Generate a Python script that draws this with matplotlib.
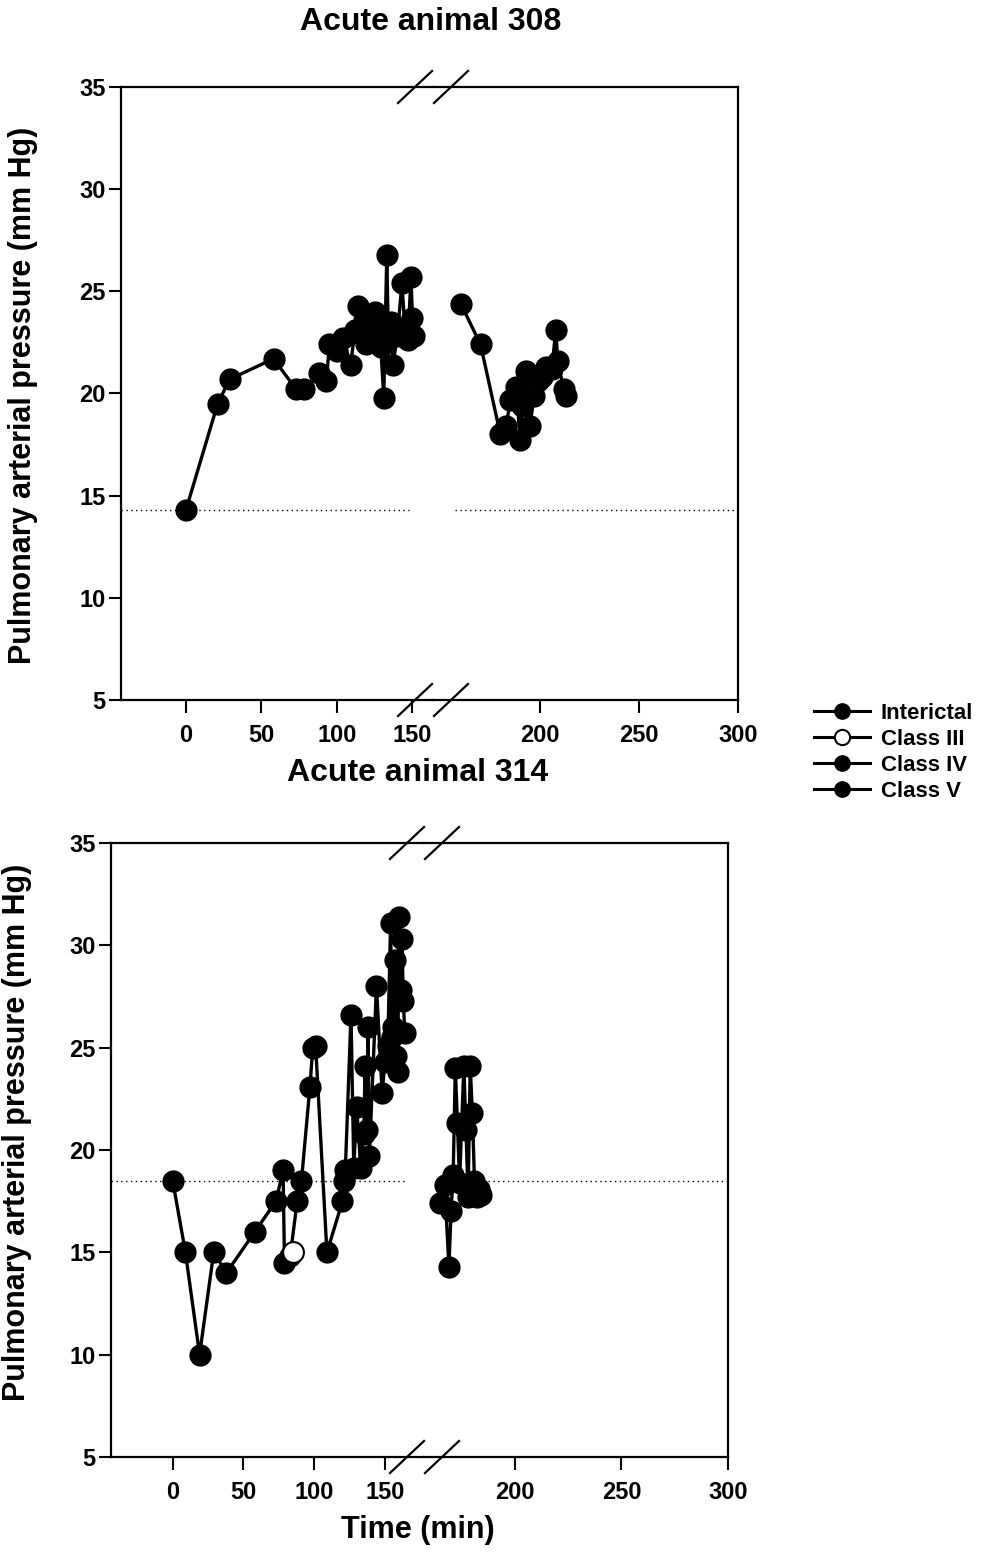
import matplotlib
matplotlib.use("Agg")
import matplotlib.pyplot as plt
from matplotlib.lines import Line2D

plt.rcParams['font.family'] = ['Liberation Sans', 'DejaVu Sans']
plt.rcParams['font.weight'] = 'bold'

# ---------------- data ----------------
# Acute animal 308
t308_early = [0, 21, 29, 58, 73, 78, 88, 93, 95, 100, 104, 109, 112, 114, 116, 118, 119, 121,
              123, 125, 127, 129, 131, 133, 134, 136, 137, 140, 143, 145, 147, 149, 150, 151]
p308_early = [14.3, 19.5, 20.7, 21.7, 20.2, 20.2, 21.0, 20.6, 22.4, 22.1, 22.7, 21.4, 23.1, 24.3,
              22.9, 23.6, 22.4, 23.3, 22.6, 24.0, 23.2, 22.3, 19.8, 26.8, 22.9, 23.5, 21.4, 22.8,
              25.4, 23.2, 22.6, 25.7, 23.7, 22.8]
t308_late = [160, 170, 180, 183, 185, 188, 190, 191, 193, 195, 197, 199, 201, 203, 206, 208, 209, 212, 213]
p308_late = [24.4, 22.4, 18.0, 18.4, 19.7, 20.3, 17.7, 19.4, 21.1, 18.4, 19.9, 20.6, 20.8, 21.3,
             21.2, 23.1, 21.6, 20.2, 19.9]
base308 = 14.3

# Acute animal 314
t314_early = [0, 9, 19, 29, 38, 58, 73, 78, 79, 83, 88, 91, 97, 99, 101, 109, 120, 121, 122, 126,
              128, 130, 133, 135, 136, 137, 138, 139, 144, 148, 150, 152, 154, 155, 156, 157, 158,
              159, 160, 161, 162, 163, 164]
p314_early = [18.5, 15.0, 10.0, 15.0, 14.0, 16.0, 17.5, 19.0, 14.5, 14.8, 17.5, 18.5, 23.1, 25.0,
              25.1, 15.0, 17.5, 18.5, 19.0, 26.6, 19.1, 22.1, 19.1, 20.8, 24.1, 21.0, 26.0, 19.7,
              28.0, 22.8, 24.3, 25.1, 31.1, 25.5, 26.0, 29.3, 24.6, 23.8, 31.4, 27.8, 30.3, 27.3, 25.7]
t314_late = [165, 167, 169, 170, 171, 172, 173, 174, 176, 177, 178, 179, 180, 181, 182, 183, 184]
p314_late = [17.4, 18.3, 14.3, 17.0, 18.8, 24.0, 21.3, 18.4, 24.1, 21.0, 17.7, 24.1, 21.8, 18.5,
             17.7, 18.1, 17.8]
t314_class3 = [85]
p314_class3 = [15.0]
base314 = 18.5

yticks = [5, 10, 15, 20, 25, 30, 35]
xticks_early = [0, 50, 100, 150]
xticks_late = [200, 250, 300]
legend_labels = ['Interictal', 'Class III', 'Class IV', 'Class V']
titles = ['Acute animal 308', 'Acute animal 314']
ylabel = 'Pulmonary arterial pressure (mm Hg)'
xlabel = 'Time (min)'

# ---------------- layout ----------------
W, H = 981, 1552
fig = plt.figure(figsize=(W / 100, H / 100), dpi=100)


def fx(px):
    return px / W


def fy(py):
    return 1 - py / H


MS = 15
LW = 2.4
TICK_FS = 17
LABEL_FS = 22
TITLE_FS = 23


def style_axis(ax, show_y):
    ax.set_ylim(5, 35)
    ax.set_yticks(yticks)
    for s in ax.spines.values():
        s.set_linewidth(1.6)
    ax.tick_params(axis='both', direction='out', length=9, width=1.5,
                   labelsize=TICK_FS, pad=2)
    ax.tick_params(axis='x', pad=8)
    if not show_y:
        ax.tick_params(axis='y', left=False, labelleft=False)


def panel(px_left, px_break, px_right, py_top, py_bot, xl_left, xl_right,
          early, late, base, line_end_px, line_start_px, slash_x, title, title_xy,
          ylabel_xy, extra=None, show_xlabel=False):
    h = (py_bot - py_top) / H
    axL = fig.add_axes([fx(px_left), fy(py_bot), (px_break - px_left) / W, h])
    axR = fig.add_axes([fx(px_break), fy(py_bot), (px_right - px_break) / W, h])
    axL.set_xlim(*xl_left)
    axR.set_xlim(*xl_right)
    axL.set_xticks(xticks_early)
    axR.set_xticks(xticks_late)
    style_axis(axL, True)
    style_axis(axR, False)
    axL.spines['right'].set_visible(False)
    axR.spines['left'].set_visible(False)

    # baseline dotted line
    fL = (line_end_px - px_left) / (px_break - px_left)
    fR = (line_start_px - px_break) / (px_right - px_break)
    axL.axhline(base, xmin=0, xmax=fL, color='black', lw=1.0, ls=(0, (1, 2.5)), zorder=1)
    axR.axhline(base, xmin=fR, xmax=1, color='black', lw=1.0, ls=(0, (1, 2.5)), zorder=1)

    axL.plot(early[0], early[1], '-o', color='black', lw=LW, ms=MS, zorder=3, clip_on=False)
    axR.plot(late[0], late[1], '-o', color='black', lw=LW, ms=MS, zorder=3, clip_on=False)
    if extra is not None:
        axL.plot(extra[0], extra[1], 'o', ms=MS, mfc='white', mec='black', mew=1.5, zorder=4)

    fig.text(fx(ylabel_xy[0]), fy(ylabel_xy[1]), ylabel, rotation=90, fontsize=LABEL_FS,
             fontweight='bold', ha='center', va='center')
    if show_xlabel:
        fig.text(fx(418), fy(1530), xlabel, fontsize=LABEL_FS, fontweight='bold',
                 ha='center', va='center')

    # break marks
    for cx in slash_x:
        for py in (py_top, py_bot):
            ln = Line2D([fx(cx - 17), fx(cx + 17)], [fy(py + 16), fy(py - 16)],
                        transform=fig.transFigure, color='black', lw=1.6)
            fig.add_artist(ln)

    fig.text(fx(title_xy[0]), fy(title_xy[1]), title, fontsize=TITLE_FS, fontweight='bold',
             ha='center', va='center')
    return axL, axR


panel(121, 433, 738, 87, 700, (-43.0, 163.6), (146.0, 300),
      (t308_early, p308_early), (t308_late, p308_late), base308,
      412, 455, (415, 451), titles[0], (431, 22), (23, 395))

panel(111, 424, 728, 843, 1457, (-43.6, 177.6), (157.3, 300),
      (t314_early, p314_early), (t314_late, p314_late), base314,
      405, 488, (407, 442), titles[1], (418, 773), (17, 1132),
      extra=(t314_class3, p314_class3), show_xlabel=True)

# legend
handles = [
    Line2D([], [], color='black', lw=2.2, marker='o', ms=11),
    Line2D([], [], color='black', lw=2.2, marker='o', ms=11, mfc='white', mew=1.5),
    Line2D([], [], color='black', lw=2.2, marker='o', ms=11),
    Line2D([], [], color='black', lw=2.2, marker='o', ms=11),
]
fig.legend(handles, legend_labels, loc='upper left', bbox_to_anchor=(fx(814), fy(703)),
           frameon=False, handlelength=2.5, handletextpad=0.5,
           labelspacing=0.22, borderaxespad=0, borderpad=0,
           prop={'weight': 'bold', 'size': 16})

fig.savefig('out.png', dpi=100)
